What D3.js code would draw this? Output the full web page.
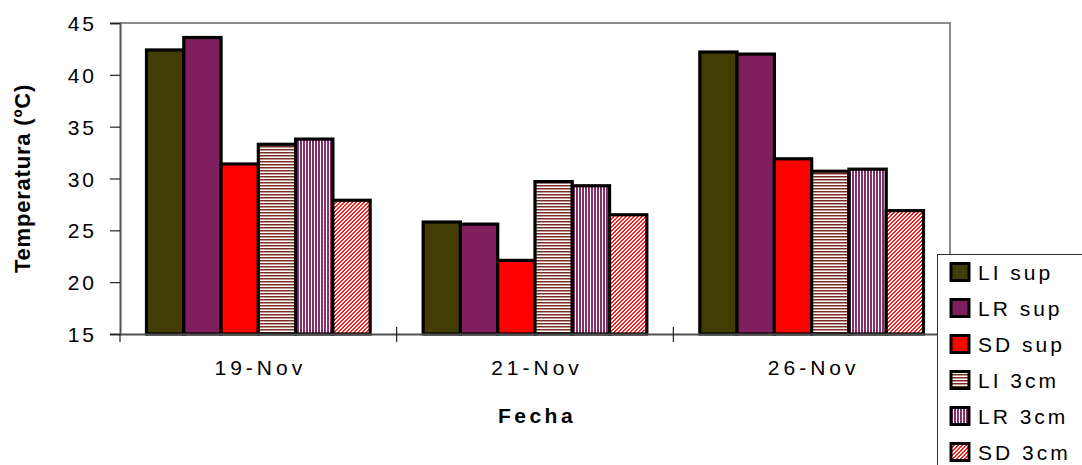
<!DOCTYPE html>
<html>
<head>
<meta charset="utf-8">
<script src="https://cdn.jsdelivr.net/npm/d3@7"></script>
<style>
  body { margin: 0; background: #fff; }
  text { font-family: "Liberation Sans", Arial, sans-serif; fill: #000; }
</style>
</head>
<body>
<script>
var width = 1082;
var height = 465;
var margin = {top: 23, right: 132, bottom: 131, left: 120};
var w = width - margin.left - margin.right;
var h = height - margin.top - margin.bottom;

var categories = ["19-Nov", "21-Nov", "26-Nov"];
var seriesNames = ["LI sup", "LR sup", "SD sup", "LI 3cm", "LR 3cm", "SD 3cm"];
var liSup = [42.4, 25.8, 42.2];
var lrSup = [43.6, 25.6, 42.0];
var sdSup = [31.4, 22.1, 31.9];
var li3cm = [33.3, 29.7, 30.7];
var lr3cm = [33.8, 29.3, 30.9];
var sd3cm = [27.9, 26.5, 26.9];
var yTicks = [15, 20, 25, 30, 35, 40, 45];

var seriesValues = [liSup, lrSup, sdSup, li3cm, lr3cm, sd3cm];
var fills = ["#423d04", "#7f1f5f", "#ff0000", "url(#pHoriz)", "url(#pVert)", "url(#pDiag)"];

var svg = d3.select("body").append("svg")
  .attr("width", width)
  .attr("height", height);

// patterns
var defs = svg.append("defs");
var ph = defs.append("pattern").attr("id", "pHoriz")
  .attr("patternUnits", "userSpaceOnUse").attr("width", 3).attr("height", 3);
ph.append("rect").attr("width", 3).attr("height", 3).attr("fill", "#fff");
ph.append("rect").attr("width", 3).attr("height", 1.5).attr("fill", "#7a2e22");

var pv = defs.append("pattern").attr("id", "pVert")
  .attr("patternUnits", "userSpaceOnUse").attr("width", 3).attr("height", 3);
pv.append("rect").attr("width", 3).attr("height", 3).attr("fill", "#fff");
pv.append("rect").attr("width", 2).attr("height", 3).attr("fill", "#86306a");

// fine diagonal pixel pattern
var pd = defs.append("pattern").attr("id", "pDiag")
  .attr("patternUnits", "userSpaceOnUse").attr("width", 4).attr("height", 4);
pd.append("rect").attr("width", 4).attr("height", 4).attr("fill", "#fff");
[[0,3],[1,2],[2,1],[3,0],[0,2],[1,1],[2,0],[3,3]].forEach(function(p) {
  pd.append("rect").attr("x", p[0]).attr("y", p[1])
    .attr("width", 1).attr("height", 1).attr("fill", "#ff1a1a")
    .attr("shape-rendering", "crispEdges");
});

var g = svg.append("g")
  .attr("transform", "translate(" + margin.left + "," + margin.top + ")");

var x0 = d3.scaleBand().domain(categories).range([0, w]).padding(0);
var x1 = d3.scaleBand().domain(seriesNames)
  .range([26.5, x0.bandwidth() - 26.5]).padding(0);
var y = d3.scaleLinear().domain([15, 45]).range([h, 0]);

// plot frame (top and right in gray)
g.append("path")
  .attr("d", "M0,0 H" + w + " V" + h)
  .attr("fill", "none").attr("stroke", "#8c8c8c").attr("stroke-width", 2);

// bars
seriesNames.forEach(function(name, i) {
  g.selectAll(".bar" + i)
    .data(seriesValues[i])
    .enter()
    .append("rect")
    .attr("class", "bar" + i)
    .attr("x", function(d, j) { return x0(categories[j]) + x1(name); })
    .attr("width", x1.bandwidth())
    .attr("y", function(d) { return y(d); })
    .attr("height", function(d) { return h - y(d); })
    .attr("fill", fills[i])
    .attr("stroke", "#000")
    .attr("stroke-width", 3.2);
});

// y axis
var yAxis = g.append("g")
  .call(d3.axisLeft(y).tickValues(yTicks).tickSize(10).tickPadding(13));
yAxis.select(".domain").attr("stroke", "#505050").attr("stroke-width", 2);
yAxis.selectAll(".tick line").attr("stroke", "#202020").attr("stroke-width", 1.2);
yAxis.selectAll(".tick text")
  .style("font-family", "Liberation Sans, Arial, sans-serif")
  .style("font-size", "21px").style("letter-spacing", "3px")
  .attr("dy", "0.36em");

// x axis
var xAxis = g.append("g")
  .attr("transform", "translate(0," + h + ")")
  .call(d3.axisBottom(x0).tickSize(0).tickPadding(26));
xAxis.select(".domain").attr("stroke", "#505050").attr("stroke-width", 2);
xAxis.selectAll(".tick text")
  .style("font-family", "Liberation Sans, Arial, sans-serif")
  .style("font-size", "21px").style("letter-spacing", "4px")
  .attr("dx", "2px");
// boundary ticks
xAxis.selectAll(".bound")
  .data(categories.slice(1))
  .enter()
  .append("line")
  .attr("x1", function(d) { return x0(d); })
  .attr("x2", function(d) { return x0(d); })
  .attr("y1", -7).attr("y2", 8)
  .attr("stroke", "#202020").attr("stroke-width", 1.2);
xAxis.append("line")
  .attr("x1", 0).attr("x2", 0).attr("y1", 0).attr("y2", 8)
  .attr("stroke", "#202020").attr("stroke-width", 1.2);

// axis titles
svg.append("text")
  .attr("x", margin.left + w / 2 + 2)
  .attr("y", 423)
  .attr("text-anchor", "middle")
  .style("font-size", "21px").style("font-weight", "bold")
  .style("letter-spacing", "3.5px")
  .text("Fecha");

svg.append("text")
  .attr("transform", "translate(30," + (margin.top + h / 2) + ") rotate(-90)")
  .attr("text-anchor", "middle")
  .style("font-size", "22px").style("font-weight", "bold")
  .style("letter-spacing", "0.8px")
  .text("Temperatura (ºC)");

// legend
var legend = svg.append("g");
legend.append("rect")
  .attr("x", 937.5).attr("y", 254.5)
  .attr("width", 200).attr("height", 250)
  .attr("fill", "#fff").attr("stroke", "#303030").attr("stroke-width", 1);

var items = legend.selectAll(".item")
  .data(seriesNames)
  .enter()
  .append("g")
  .attr("transform", function(d, i) { return "translate(0," + (272 + i * 36) + ")"; });
items.append("rect")
  .attr("x", 951).attr("y", -8.5)
  .attr("width", 18).attr("height", 17)
  .attr("fill", function(d, i) { return fills[i]; })
  .attr("stroke", "#000").attr("stroke-width", 3);
items.append("text")
  .attr("x", 978)
  .attr("dy", "0.36em")
  .style("font-size", "21px").style("letter-spacing", "3px")
  .text(function(d) { return d; });
</script>
</body>
</html>
